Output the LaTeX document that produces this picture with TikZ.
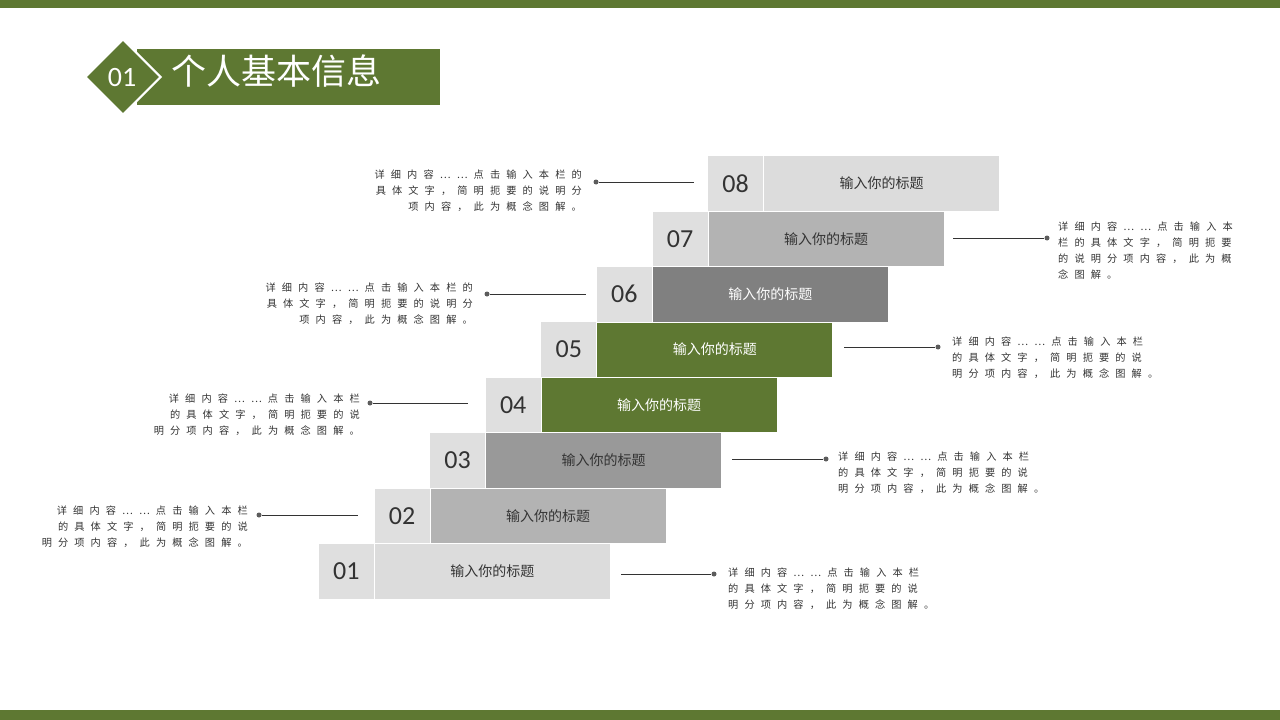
\documentclass[tikz,border=0pt]{standalone}
\usepackage{fontspec}
\usetikzlibrary{shapes.geometric}
\setmainfont{Noto Sans CJK SC}
\newfontfamily\numfont{Carlito}
\newfontfamily\descfont[LetterSpace=60]{Noto Sans CJK SC}
\definecolor{gr}{HTML}{5E7832}
\definecolor{c1}{HTML}{DCDCDC}
\definecolor{c2}{HTML}{B3B3B3}
\definecolor{c3}{HTML}{999999}
\definecolor{c6}{HTML}{808080}
\definecolor{nb}{HTML}{DFDFDF}
\definecolor{tx}{HTML}{333333}
\tikzset{
 numbox/.style={fill=nb,draw=white,line width=0.8pt,minimum width=56pt,minimum height=55.5pt,anchor=north west,inner sep=0pt,font=\numfont\fontsize{26}{26}\selectfont,text=tx},
 titbox/.style={draw=white,line width=0.8pt,minimum width=236pt,minimum height=55.5pt,anchor=north west,inner sep=0pt,font=\fontsize{14}{14}\selectfont},
 desc/.style={font=\descfont\fontsize{10.2}{16}\selectfont,text=tx,inner sep=0pt},
 conn/.style={draw=tx,line width=0.8pt},
 dot/.style={circle,fill=tx!80,inner sep=0pt,minimum size=5pt}
}
\begin{document}
\begin{tikzpicture}[x=1pt,y=-1pt]
\useasboundingbox (0,0) rectangle (1280,720);
\fill[gr] (0,0) rectangle (1280,8);
\fill[gr] (0,710) rectangle (1280,720);
% title
\node[fill=gr,minimum width=303pt,minimum height=56pt,anchor=north west,inner sep=0pt] (tbar) at (137,49) {};
\node[diamond,fill=gr,draw=white,line width=2pt,minimum width=76pt,minimum height=76pt,inner sep=0pt] (dia) at (123,77) {};
\node[text=white,font=\numfont\fontsize{28}{28}\selectfont] (dnum) at (122,78) {01};
\node[text=white,font=\fontsize{35}{35}\selectfont,anchor=west] (ttl) at (168,71) {个人基本信息};
% steps
\foreach \i/\c/\t in {1/c1/tx,2/c2/tx,3/c3/tx,4/gr/white,5/gr/white,6/c6/white,7/c2/tx,8/c1/tx}{
 \pgfmathsetmacro{\xx}{318+55.6*(\i-1)}
 \pgfmathsetmacro{\yy}{543-55.4*(\i-1)}
 \node[numbox] (n\i) at (\xx,\yy) {0\i};
 \node[titbox,fill=\c,text=\t] (t\i) at (\xx+56,\yy) {输入你的标题};
}
% left-side descriptions
\node[dot] (d8) at (596,182) {};
\coordinate (e8) at (694,182);
\draw[conn] (d8) -- (e8);
\node[desc,align=right,anchor=north east] (x8) at (582,170) {详细内容……点击输入本栏的\\具体文字，简明扼要的说明分\\项内容，此为概念图解。};
\node[dot] (d6) at (487,294) {};
\coordinate (e6) at (586,294);
\draw[conn] (d6) -- (e6);
\node[desc,align=right,anchor=north east] (x6) at (473,283) {详细内容……点击输入本栏的\\具体文字，简明扼要的说明分\\项内容，此为概念图解。};
\node[dot] (d4) at (370,403) {};
\coordinate (e4) at (468,403);
\draw[conn] (d4) -- (e4);
\node[desc,align=right,anchor=north east] (x4) at (360,394) {详细内容……点击输入本栏\\的具体文字，简明扼要的说\\明分项内容，此为概念图解。};
\node[dot] (d2) at (259,515) {};
\coordinate (e2) at (358,515);
\draw[conn] (d2) -- (e2);
\node[desc,align=right,anchor=north east] (x2) at (248,506) {详细内容……点击输入本栏\\的具体文字，简明扼要的说\\明分项内容，此为概念图解。};
% right-side descriptions
\coordinate (s7) at (953,238);
\node[dot] (d7) at (1047,238) {};
\draw[conn] (s7) -- (d7);
\node[desc,align=left,anchor=north west] (x7) at (1058,222) {详细内容……点击输入本\\栏的具体文字，简明扼要\\的说明分项内容，此为概\\念图解。};
\coordinate (s5) at (844,347);
\node[dot] (d5) at (938,347) {};
\draw[conn] (s5) -- (d5);
\node[desc,align=left,anchor=north west] (x5) at (952,337) {详细内容……点击输入本栏\\的具体文字，简明扼要的说\\明分项内容，此为概念图解。};
\coordinate (s3) at (732,459);
\node[dot] (d3) at (826,459) {};
\draw[conn] (s3) -- (d3);
\node[desc,align=left,anchor=north west] (x3) at (838,452) {详细内容……点击输入本栏\\的具体文字，简明扼要的说\\明分项内容，此为概念图解。};
\coordinate (s1) at (621,574);
\node[dot] (d1) at (714,574) {};
\draw[conn] (s1) -- (d1);
\node[desc,align=left,anchor=north west] (x1) at (728,568) {详细内容……点击输入本栏\\的具体文字，简明扼要的说\\明分项内容，此为概念图解。};
\end{tikzpicture}
\end{document}
